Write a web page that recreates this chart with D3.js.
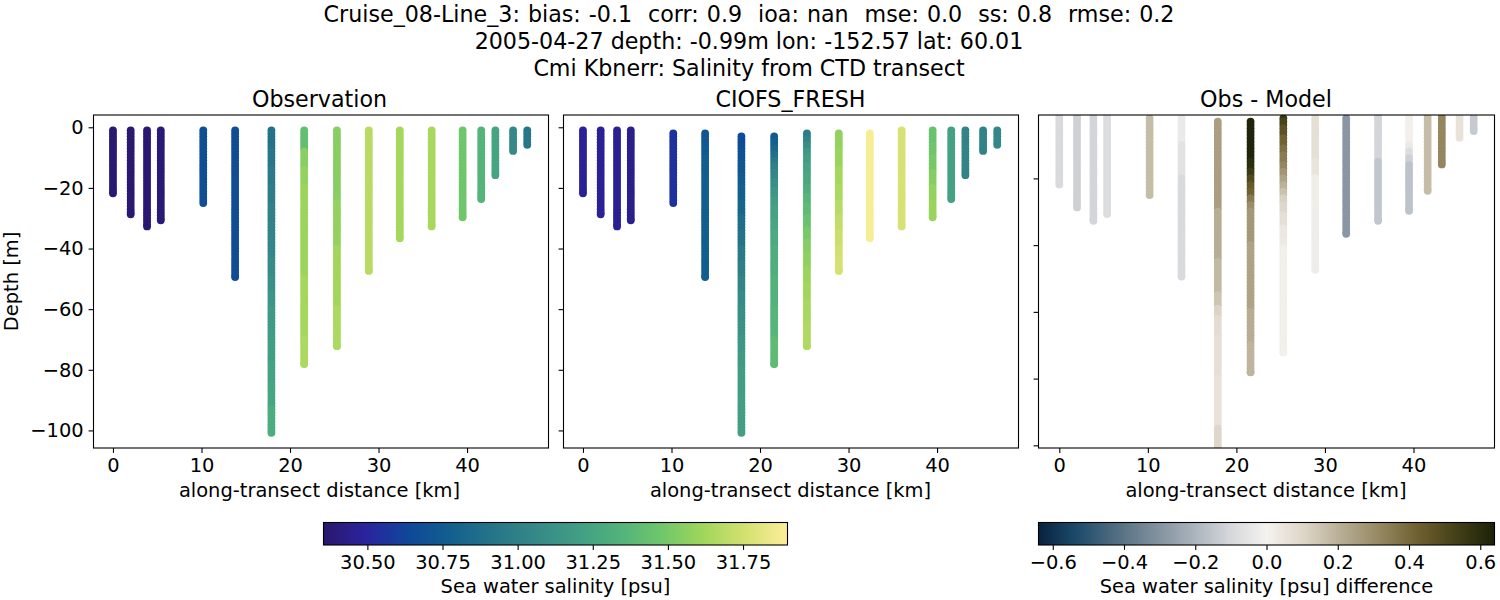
<!DOCTYPE html>
<html>
<head>
<meta charset="utf-8">
<script src="https://cdn.jsdelivr.net/npm/d3@7"></script>
<style>
  html, body { margin: 0; padding: 0; background: #fff; }
  svg { display: block; font-family: "DejaVu Sans"; }
  text { white-space: pre; fill: #000; }
</style>
</head>
<body>
<div id="chart"></div>
<script>
var titleLines = [
  'Cruise_08-Line_3: bias: -0.1  corr: 0.9  ioa: nan  mse: 0.0  ss: 0.8  rmse: 0.2',
  '2005-04-27 depth: -0.99m lon: -152.57 lat: 60.01',
  'Cmi Kbnerr: Salinity from CTD transect'
];

// along-transect position of each cast [km]
var distances = [0, 2.0, 3.85, 5.4, 10.2, 13.8, 17.9, 21.6, 25.3, 28.9, 32.4, 36.0, 39.5, 41.6, 43.2, 45.2, 46.8];
// deepest sample of each cast [m]
var bottoms = [21.8, 28.7, 32.7, 30.7, 25, 49.4, 100.8, 78.1, 72.2, 47.4, 36.6, 32.7, 29.7, 23.7, 15.8, 7.8, 5.8];
// first sample of each cast [m]
var obsTops = [1, 1, 1, 1, 1, 1, 1, 1, 1, 1, 1, 1, 1, 1, 1, 1, 1];
var modelTops = [1, 1, 1, 1, 2, 2, 3, 3, 2, 2, 2, 1, 1, 1, 1, 1, 1];

// readings per cast: [depth from which the value holds, value]
var obsSalinity = [
  [[1, 30.37]],
  [[1, 30.37]],
  [[1, 30.37]],
  [[1, 30.38]],
  [[1, 30.68]],
  [[1, 30.67]],
  [[1, 30.9], [8, 30.93], [14, 30.96], [20, 30.98], [26, 31.01], [32, 31.03], [38, 31.05], [44, 31.08], [50, 31.11], [55, 31.14], [60, 31.17], [65, 31.19], [70, 31.2], [78, 31.23], [85, 31.25], [93, 31.3]],
  [[1, 31.42], [8, 31.55], [14, 31.58], [20, 31.61], [50, 31.63], [70, 31.65]],
  [[1, 31.55], [25, 31.58], [40, 31.62], [60, 31.65]],
  [[1, 31.68]],
  [[1, 31.63]],
  [[1, 31.64]],
  [[1, 31.48]],
  [[1, 31.35]],
  [[1, 31.24]],
  [[1, 31.06]],
  [[1, 30.93]]
];
var modelSalinity = [
  [[1, 30.47]],
  [[1, 30.47]],
  [[1, 30.46]],
  [[1, 30.44]],
  [[1, 30.55]],
  [[1, 30.72], [6, 30.74], [10, 30.77]],
  [[3, 30.66], [8, 30.69], [12, 30.72], [16, 30.75], [20, 30.78], [25, 30.82], [30, 30.87], [35, 30.91], [40, 30.95], [45, 30.99], [50, 31.03], [55, 31.07], [60, 31.1], [65, 31.13], [70, 31.16], [75, 31.18], [80, 31.2], [90, 31.21]],
  [[3, 30.74], [5, 30.78], [7, 30.83], [9, 30.89], [11, 30.95], [13, 31.0], [15, 31.05], [18, 31.1], [21, 31.15], [24, 31.19], [27, 31.22], [31, 31.25], [35, 31.28], [40, 31.31], [50, 31.34], [60, 31.36], [70, 31.4]],
  [[2, 30.98], [4, 31.03], [6, 31.09], [8, 31.15], [10, 31.2], [13, 31.24], [16, 31.27], [20, 31.31], [23, 31.36], [26, 31.4], [30, 31.45], [34, 31.5], [38, 31.54], [42, 31.57], [47, 31.6], [52, 31.62], [58, 31.64], [65, 31.66]],
  [[2, 31.58], [8, 31.6], [14, 31.63], [20, 31.65], [25, 31.68], [30, 31.71], [35, 31.73], [40, 31.75], [44, 31.76]],
  [[1, 31.88]],
  [[1, 31.77]],
  [[1, 31.45], [6, 31.47], [10, 31.5], [15, 31.54], [20, 31.58], [25, 31.6]],
  [[1, 31.22]],
  [[1, 31.03]],
  [[1, 31.02]],
  [[1, 31.05]]
];
var salinityDiff = [
  [[1, -0.09]],
  [[1, -0.12]],
  [[1, -0.11]],
  [[1, -0.08]],
  [[1, 0.17]],
  [[1, -0.03], [10, -0.06], [20, -0.09]],
  [[1, 0.25], [30, 0.21], [45, 0.18], [55, 0.15], [59, 0.11], [62, 0.08], [68, 0.07], [80, 0.06], [95, 0.1]],
  [[1, 0.63], [15, 0.6], [18, 0.55], [20, 0.5], [22, 0.45], [24, 0.42], [26, 0.35], [28, 0.3], [30, 0.27], [40, 0.24], [60, 0.21], [70, 0.19]],
  [[1, 0.56], [3, 0.52], [5, 0.47], [8, 0.42], [11, 0.38], [13, 0.35], [16, 0.32], [18, 0.28], [20, 0.24], [22, 0.2], [24, 0.16], [26, 0.12], [28, 0.1], [31, 0.07], [35, 0.04], [39, 0.03], [41, 0.01]],
  [[1, 0.07], [15, 0.05], [20, 0.02], [30, -0.02]],
  [[1, -0.29]],
  [[1, -0.11], [15, -0.15]],
  [[1, 0.01], [10, -0.03], [12, -0.08], [14, -0.12], [16, -0.16]],
  [[1, 0.17]],
  [[1, 0.32]],
  [[1, 0.06]],
  [[1, -0.14]]
];

var xTicks = [0, 10, 20, 30, 40];
var yTicks = [0, -20, -40, -60, -80, -100];
var salinityTicks = [30.5, 30.75, 31, 31.25, 31.5, 31.75];
var diffTicks = [-0.6, -0.4, -0.2, 0, 0.2, 0.4, 0.6];

var halineColors = ['#29186b', '#2a23a0', '#0f4799', '#125f8e', '#267489', '#358888', '#419d85', '#51b27c', '#6fc66b', '#a0d65b', '#d4e170', '#fdee99'];
var diffColors = ['#07223f', '#1d4a6a', '#4f6c80', '#7c8d9b', '#a6b0b9', '#d3d6da', '#f5f2ef', '#ddd5c6', '#b6ac93', '#948760', '#6f5f2f', '#434018', '#1c2109'];

var width = 1500, height = 600;
var salinityRange = [30.354, 31.898];
var diffRange = [-0.64, 0.64];

function stops(range, n) {
  return d3.range(n).map(i => range[0] + (range[1] - range[0]) * i / (n - 1));
}
var salinityColor = d3.scaleLinear().domain(stops(salinityRange, halineColors.length)).range(halineColors).clamp(true);
var diffColor = d3.scaleLinear().domain(stops(diffRange, diffColors.length)).range(diffColors).clamp(true);

var svg = d3.select('#chart').append('svg').attr('width', width).attr('height', height);
var defs = svg.append('defs');

svg.selectAll('.title').data(titleLines).enter().append('text').
  attr('class', 'title').
  attr('x', 749).
  attr('y', (d, i) => 22 + i * 27).
  attr('text-anchor', 'middle').
  attr('font-size', '22.2px').
  attr('word-spacing', (d, i) => i == 0 ? '0.95px' : null).
  text(d => d);

function valueAt(readings, depth) {
  var v = readings[0][1];
  readings.forEach(r => { if (r[0] <= depth) v = r[1]; });
  return v;
}

// one dot per metre of cast, shallow first so deeper dots lie on top
function castPoints(tops, readings) {
  var points = [];
  distances.forEach((dist, s) => {
    var depths = d3.range(tops[s], bottoms[s], 1).concat([bottoms[s]]);
    depths.forEach(depth => points.push({dist: dist, depth: depth, value: valueAt(readings[s], depth)}));
  });
  return points;
}

function panel(cfg) {
  var x = d3.scaleLinear().domain(cfg.xDomain).range([cfg.left, cfg.right]);
  var y = d3.scaleLinear().domain(cfg.yDomain).range([448, 115]);
  var id = 'clip-' + cfg.left;
  defs.append('clipPath').attr('id', id).append('rect').
    attr('x', cfg.left).attr('y', 115).attr('width', cfg.right - cfg.left).attr('height', 333);

  svg.append('g').attr('clip-path', 'url(#' + id + ')').
    selectAll('circle').data(castPoints(cfg.tops, cfg.readings)).enter().append('circle').
    attr('cx', d => x(d.dist)).
    attr('cy', d => y(-d.depth)).
    attr('r', 3.9).
    attr('fill', d => cfg.color(d.value));

  var xAxis = svg.append('g').attr('transform', 'translate(0,448)').
    call(d3.axisBottom(x).tickValues(xTicks).tickFormat(d3.format('d')).tickSize(4.9).tickPadding(4.9));
  var yAxis = svg.append('g').attr('transform', 'translate(' + cfg.left + ',0)').
    call(d3.axisLeft(y).tickValues(yTicks.filter(t => t >= cfg.yDomain[0] && t <= cfg.yDomain[1])).
      tickFormat(cfg.yLabels ? d3.format('d') : '').tickSize(4.9).tickPadding(4.9));
  [xAxis, yAxis].forEach(a => {
    a.select('.domain').remove();
    a.selectAll('line').attr('stroke', '#000').attr('stroke-width', 1.1);
    a.selectAll('text').attr('font-size', '19.45px').attr('font-family', 'DejaVu Sans').attr('fill', '#000');
  });

  svg.append('rect').
    attr('x', cfg.left).attr('y', 115).attr('width', cfg.right - cfg.left).attr('height', 333).
    attr('fill', 'none').attr('stroke', '#000').attr('stroke-width', 1.1);

  svg.append('text').
    attr('x', cfg.labelX).attr('y', 107).
    attr('text-anchor', 'middle').attr('font-size', '22.2px').
    text(cfg.title);

  svg.append('text').
    attr('x', cfg.labelX).attr('y', 497).
    attr('text-anchor', 'middle').attr('font-size', '19.45px').
    text('along-transect distance [km]');
}

panel({left: 93.5, right: 548.5, labelX: 319.5, xDomain: [-2.2, 49.2], yDomain: [-105.8, 4.05], tops: obsTops,
  readings: obsSalinity, color: salinityColor, title: 'Observation', yLabels: true});
panel({left: 563.5, right: 1018.5, labelX: 790.5, xDomain: [-2.2, 49.2], yDomain: [-105.8, 4.05], tops: modelTops,
  readings: modelSalinity, color: salinityColor, title: 'CIOFS_FRESH', yLabels: false});
panel({left: 1038.5, right: 1494.5, labelX: 1266, xDomain: [-2.35, 49.15], yDomain: [-100.8, -1], tops: modelTops,
  readings: salinityDiff, color: diffColor, title: 'Obs - Model', yLabels: false});

svg.append('text').
  attr('transform', 'translate(18,281.5) rotate(-90)').
  attr('text-anchor', 'middle').attr('font-size', '19.45px').
  text('Depth [m]');

function colorbar(cfg) {
  var x = d3.scaleLinear().domain(cfg.range).range([cfg.left, cfg.right]);
  var grad = defs.append('linearGradient').attr('id', cfg.id);
  cfg.colors.forEach((c, i) => {
    grad.append('stop').attr('offset', i / (cfg.colors.length - 1)).attr('stop-color', c);
  });
  svg.append('rect').
    attr('x', cfg.left).attr('y', 522.5).attr('width', cfg.right - cfg.left).attr('height', 22.5).
    attr('fill', 'url(#' + cfg.id + ')').attr('stroke', '#000').attr('stroke-width', 1.1);
  var axis = svg.append('g').attr('transform', 'translate(0,545)').
    call(d3.axisBottom(x).tickValues(cfg.ticks).tickFormat(d3.format(cfg.format)).tickSize(4.9).tickPadding(4.9));
  axis.select('.domain').remove();
  axis.selectAll('line').attr('stroke', '#000').attr('stroke-width', 1.1);
  axis.selectAll('text').attr('font-size', '19.45px').attr('font-family', 'DejaVu Sans').attr('fill', '#000');
  svg.append('text').
    attr('x', (cfg.left + cfg.right) / 2).attr('y', 593).
    attr('text-anchor', 'middle').attr('font-size', '19.45px').
    text(cfg.label);
}

colorbar({id: 'haline', left: 323.5, right: 787.5, range: salinityRange, colors: halineColors,
  ticks: salinityTicks, format: '.2f', label: 'Sea water salinity [psu]'});
colorbar({id: 'diff', left: 1038.5, right: 1494.5, range: diffRange, colors: diffColors,
  ticks: diffTicks, format: '.1f', label: 'Sea water salinity [psu] difference'});
</script>
</body>
</html>
